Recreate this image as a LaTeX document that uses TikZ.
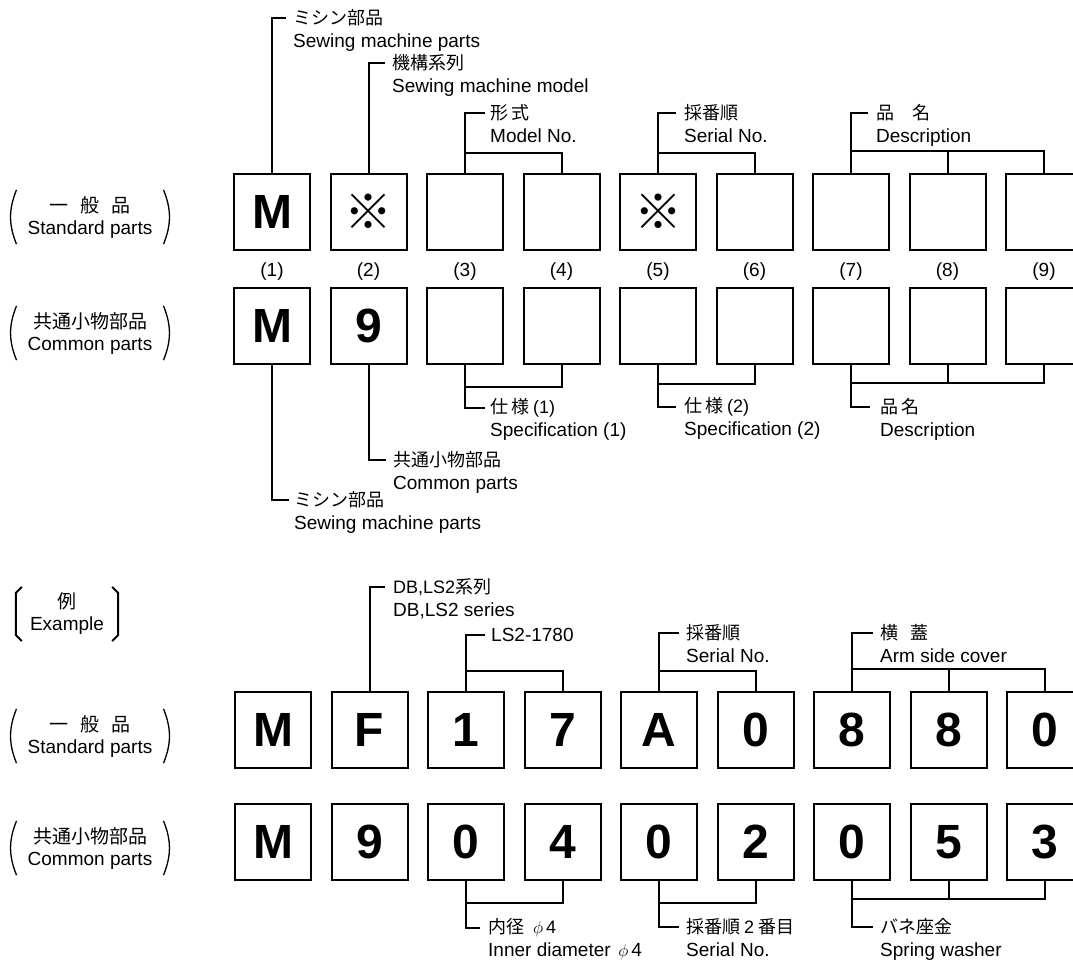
\documentclass[tikz,border=0pt]{standalone}
\usepackage{fontspec}
\setmainfont{Liberation Sans}
\newfontfamily\jpfont{Noto Sans CJK JP}
\usetikzlibrary{positioning,calc}
\newcommand{\kome}{{\jpfont\bfseries ※}}
\tikzset{
    % boxes of the part number
    digit/.style={draw, line width=2pt, minimum width=76pt, minimum height=76pt,
                  inner sep=0pt, font=\fontsize{48}{48}\selectfont\bfseries},
    conn/.style={line width=2pt},
    % callout texts
    jp/.style={font=\jpfont\fontsize{18}{22}\selectfont, inner sep=0pt, anchor=west},
    en/.style={font=\fontsize{19}{22}\selectfont, inner sep=0pt, anchor=base west},
    idx/.style={font=\fontsize{19}{22}\selectfont, inner sep=0pt},
    side/.style={align=center, inner xsep=11pt, inner ysep=6pt,
                 font=\fontsize{19}{22}\selectfont},
    paren/.style={line width=1.3pt}
}

\begin{document}
\begin{tikzpicture}[x=1pt, y=-1pt]
  \useasboundingbox (0,0) rectangle (1073,962);

  % Side labels
  \node[side] (u1) at (90,217) {{\jpfont 一\hspace{12pt}般\hspace{12pt}品}\\Standard parts};
  \node[side] (u2) at (90,333) {{\jpfont 共通小物部品}\\Common parts};
  \node[side, inner xsep=14pt] (ex) at (67,614) {{\jpfont 例}\\Example};
  \node[side] (u3) at (90,736) {{\jpfont 一\hspace{12pt}般\hspace{12pt}品}\\Standard parts};
  \node[side] (u4) at (90,848) {{\jpfont 共通小物部品}\\Common parts};
  \foreach \s in {u1,u2,u3,u4} {
    \draw[paren] (\s.north west) to[bend right=22] (\s.south west);
    \draw[paren] (\s.north east) to[bend left=22] (\s.south east);
  }
  \draw[line width=2pt] ([xshift=6pt]ex.north west) -- ([yshift=-6pt]ex.north west)
    -- ([yshift=6pt]ex.south west) -- ([xshift=6pt]ex.south west);
  \draw[line width=2pt] ([xshift=-6pt]ex.north east) -- ([yshift=-6pt]ex.north east)
    -- ([yshift=6pt]ex.south east) -- ([xshift=-6pt]ex.south east);

  % Boxes
  \foreach \ch [count=\i] in {M,\kome,{},{},\kome,{},{},{},{}}
    \node[digit] (s\i) at ({272+96.5*(\i-1)},212) {\ch};
  \foreach \i in {1,...,9}
    \node[idx] (n\i) at ({272+96.5*(\i-1)},272) {(\i)};
  \foreach \ch [count=\i] in {M,9,{},{},{},{},{},{},{}}
    \node[digit] (c\i) at ({272+96.5*(\i-1)},326) {\ch};
  \foreach \ch [count=\i] in {M,F,1,7,A,0,8,8,0}
    \node[digit] (es\i) at ({273+96.5*(\i-1)},730) {\ch};
  \foreach \ch [count=\i] in {M,9,0,4,0,2,0,5,3}
    \node[digit] (ec\i) at ({273+96.5*(\i-1)},842) {\ch};

  % Callouts above the standard parts
  \node[jp] (t1) at (293,18) {ミシン部品};
  \node[en] (t1e) at ([yshift=-23pt]t1.base west) {Sewing machine parts};
  \node[jp] (t2) at (392,63) {機構系列};
  \node[en] (t2e) at ([yshift=-23pt]t2.base west) {Sewing machine model};
  \node[jp] (t3) at (490,113) {形\,式};
  \node[en] (t3e) at ([yshift=-23pt]t3.base west) {Model No.};
  \node[jp] (t4) at (684,113) {採番順};
  \node[en] (t4e) at ([yshift=-23pt]t4.base west) {Serial No.};
  \node[jp] (t5) at (876,113) {品　名};
  \node[en] (t5e) at ([yshift=-23pt]t5.base west) {Description};

  \draw[conn] (s1.north) |- ([xshift=-7pt]t1.west);
  \draw[conn] (s2.north) |- ([xshift=-7pt]t2.west);
  \draw[conn] (s4.north) -- ++(0,-20) -| (s3.north);
  \draw[conn] (s3.north) |- ([xshift=-5pt]t3.west);
  \draw[conn] (s6.north) -- ++(0,-20) -| (s5.north);
  \draw[conn] (s5.north) |- ([xshift=-8pt]t4.west);
  \draw[conn] (s9.north) -- ++(0,-22) -| (s7.north);
  \draw[conn] (s8.north) -- ++(0,-22);
  \draw[conn] (s7.north) |- ([xshift=-8pt]t5.west);

  % Callouts below the common parts
  \node[jp] (b1) at (294,500) {ミシン部品};
  \node[en] (b1e) at ([yshift=-23pt]b1.base west) {Sewing machine parts};
  \node[jp] (b2) at (393,460) {共通小物部品};
  \node[en] (b2e) at ([yshift=-23pt]b2.base west) {Common parts};
  \node[jp] (b3) at (490,408) {仕\,様 {\normalfont(1)}};
  \node[en] (b3e) at ([yshift=-23pt]b3.base west) {Specification (1)};
  \node[jp] (b4) at (684,407) {仕\,様 {\normalfont(2)}};
  \node[en] (b4e) at ([yshift=-23pt]b4.base west) {Specification (2)};
  \node[jp] (b5) at (880,407) {品\,名};
  \node[en] (b5e) at ([yshift=-23pt]b5.base west) {Description};

  \draw[conn] (c1.south) |- ([xshift=-5pt]b1.west);
  \draw[conn] (c2.south) |- ([xshift=-7pt]b2.west);
  \draw[conn] (c4.south) -- ++(0,22) -| (c3.south);
  \draw[conn] (c3.south) |- ([xshift=-5pt]b3.west);
  \draw[conn] (c6.south) -- ++(0,19) -| (c5.south);
  \draw[conn] (c5.south) |- ([xshift=-8pt]b4.west);
  \draw[conn] (c9.south) -- ++(0,18) -| (c7.south);
  \draw[conn] (c8.south) -- ++(0,18);
  \draw[conn] (c7.south) |- ([xshift=-10pt]b5.west);

  % Example: callouts above
  \node[jp] (d1) at (393,587) {{\normalfont DB,LS2}系列};
  \node[en] (d1e) at ([yshift=-23pt]d1.base west) {DB,LS2 series};
  \node[en, anchor=west] (d2) at (491,635) {LS2-1780};
  \node[jp] (d3) at (686,633) {採番順};
  \node[en] (d3e) at ([yshift=-23pt]d3.base west) {Serial No.};
  \node[jp] (d4) at (880,633) {横\hspace{0.7em}蓋};
  \node[en] (d4e) at ([yshift=-23pt]d4.base west) {Arm side cover};

  \draw[conn] (es2.north) |- ([xshift=-8pt]d1.west);
  \draw[conn] (es4.north) -- ++(0,-20) -| (es3.north);
  \draw[conn] (es3.north) |- ([xshift=-6pt]d2.west);
  \draw[conn] (es6.north) -- ++(0,-20) -| (es5.north);
  \draw[conn] (es5.north) |- ([xshift=-7pt]d3.west);
  \draw[conn] (es9.north) -- ++(0,-22) -| (es7.north);
  \draw[conn] (es8.north) -- ++(0,-22);
  \draw[conn] (es7.north) |- ([xshift=-7pt]d4.west);

  % Example: callouts below
  \node[jp] (f1) at (488,928) {内径\hspace{0.5em}{\normalfont$\phi$\,4}};
  \node[en] (f1e) at ([yshift=-23pt]f1.base west) {Inner diameter\hspace{0.4em}$\phi$\,4};
  \node[jp] (f2) at (686,927) {採番順 {\normalfont 2} 番目};
  \node[en] (f2e) at ([yshift=-23pt]f2.base west) {Serial No.};
  \node[jp] (f3) at (880,927) {バネ座金};
  \node[en] (f3e) at ([yshift=-23pt]f3.base west) {Spring washer};

  \draw[conn] (ec4.south) -- ++(0,22) -| (ec3.south);
  \draw[conn] (ec3.south) |- ([xshift=-8pt]f1.west);
  \draw[conn] (ec6.south) -- ++(0,22) -| (ec5.south);
  \draw[conn] (ec5.south) |- ([xshift=-7pt]f2.west);
  \draw[conn] (ec9.south) -- ++(0,18) -| (ec7.south);
  \draw[conn] (ec8.south) -- ++(0,18);
  \draw[conn] (ec7.south) |- ([xshift=-7pt]f3.west);
\end{tikzpicture}
\end{document}
